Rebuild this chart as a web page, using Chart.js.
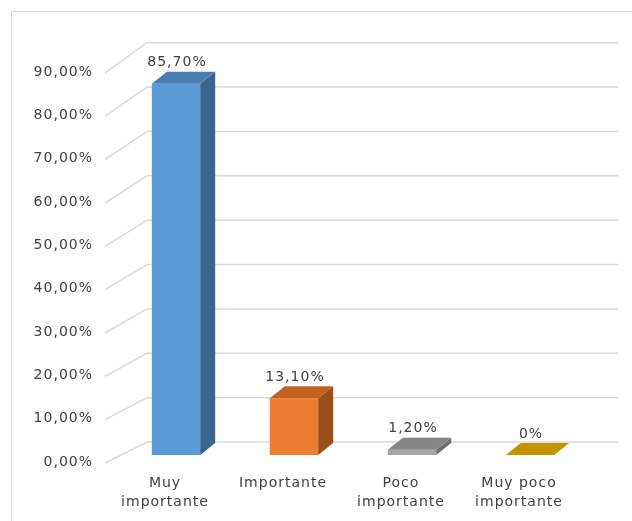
<!DOCTYPE html>
<html lang="es">
<head>
  <meta charset="UTF-8">
  <title>Importancia</title>
  <script src="https://cdn.jsdelivr.net/npm/chart.js"></script>
  <style>
    html, body { margin: 0; padding: 0; background: #fff; overflow: hidden; }
    .wrap { position: relative; width: 632px; height: 521px; }
    .frame {
      position: absolute; left: 11px; top: 11px;
      width: 700px; height: 600px;
      border: 1px solid #d9d9d9;
    }
    .box { position: absolute; left: 0; top: 0; width: 632px; height: 521px; }
  </style>
</head>
<body>
  <div class="wrap">
    <div class="frame"></div>
    <div class="box"><canvas id="chart"></canvas></div>
  </div>

  <script>
    // data
    const categories = [['Muy', 'importante'], ['Importante'], ['Poco', 'importante'], ['Muy poco', 'importante']];
    const values = [85.7, 13.1, 1.2, 0];
    const yTicks = [0, 10, 20, 30, 40, 50, 60, 70, 80, 90];

    // colours for front / top / side faces
    const frontColors = ['#5b9bd5', '#ed7d31', '#a5a5a5', '#ffc000'];
    const topColors = ['#4a7eb1', '#c3621f', '#858585', '#c49400'];
    const sideColors = ['#3b6591', '#9b4d1a', '#6e6e6e', '#9e7800'];

    const FONT = { family: "'DejaVu Sans', Verdana, sans-serif", size: 14 };
    const TEXT = '#404040';
    const DX = 15, DY = -12;

    const pct = v => v === 0 ? '0%' : v.toFixed(2).replace('.', ',') + '%';

    // Verdana in the original is spaced out a bit
    const spacingPlugin = {
      id: 'spacing',
      beforeDraw(chart) { chart.ctx.letterSpacing = '1px'; }
    };

    // back wall + side wall grid lines
    const wallPlugin = {
      id: 'wall',
      beforeDatasetsDraw(chart) {
        const { ctx, chartArea: a } = chart;
        const y = chart.scales.y;
        ctx.save();
        ctx.strokeStyle = '#d9d9d9';
        ctx.lineWidth = 1.5;
        yTicks.forEach(v => {
          const py = y.getPixelForValue(v);
          const fy = py + 8;
          const by = py - 13 + (py - a.bottom) * 0.024;
          ctx.beginPath();
          ctx.moveTo(a.left - 12, fy);
          ctx.lineTo(a.left + 30, by);
          ctx.lineTo(a.right + 29, by);
          ctx.stroke();
        });
        ctx.restore();
      }
    };

    // top and side faces, then value labels
    const boxPlugin = {
      id: 'box3d',
      afterDatasetsDraw(chart) {
        const { ctx } = chart;
        const meta = chart.getDatasetMeta(0);
        ctx.save();
        meta.data.forEach((bar, i) => {
          const { x, y, base, width } = bar.getProps(['x', 'y', 'base', 'width'], true);
          const l = x - width / 2, r = x + width / 2;
          ctx.fillStyle = sideColors[i];
          ctx.beginPath();
          ctx.moveTo(r, y);
          ctx.lineTo(r + DX, y + DY);
          ctx.lineTo(r + DX, base + DY);
          ctx.lineTo(r, base);
          ctx.closePath();
          ctx.fill();
          ctx.fillStyle = topColors[i];
          ctx.beginPath();
          ctx.moveTo(l, y);
          ctx.lineTo(r, y);
          ctx.lineTo(r + DX, y + DY);
          ctx.lineTo(l + DX, y + DY);
          ctx.closePath();
          ctx.fill();

          ctx.fillStyle = TEXT;
          ctx.font = FONT.size + 'px ' + FONT.family;
          ctx.textAlign = 'center';
          ctx.textBaseline = 'middle';
          ctx.fillText(pct(values[i]), x + 1, y - 21);
        });
        ctx.restore();
      }
    };

    new Chart(document.getElementById('chart'), {
      type: 'bar',
      data: {
        labels: categories,
        datasets: [{
          data: values,
          backgroundColor: frontColors,
          borderWidth: 0,
          barPercentage: 0.41,
          categoryPercentage: 1
        }]
      },
      options: {
        responsive: true,
        maintainAspectRatio: false,
        animation: false,
        devicePixelRatio: 1,
        layout: { padding: { top: 65, right: 43, left: 0, bottom: 0 } },
        plugins: {
          legend: { display: false },
          tooltip: { enabled: false }
        },
        scales: {
          x: {
            grid: { display: false, drawTicks: false },
            border: { display: false },
            ticks: {
              font: { ...FONT, lineHeight: 1.36 },
              color: TEXT,
              padding: 19,
              labelOffset: -11,
              maxRotation: 0,
              autoSkip: false
            },
            afterFit: s => { s.height = 66; }
          },
          y: {
            min: 0,
            max: 90,
            grid: { display: false, drawTicks: false },
            border: { display: false },
            afterBuildTicks: s => { s.ticks = yTicks.map(v => ({ value: v })); },
            ticks: {
              font: FONT,
              color: TEXT,
              padding: 24,
              labelOffset: 7,
              callback: v => v.toFixed(2).replace('.', ',') + '%'
            },
            afterFit: s => { s.width = 117; }
          }
        }
      },
      plugins: [spacingPlugin, wallPlugin, boxPlugin]
    });
  </script>
</body>
</html>
